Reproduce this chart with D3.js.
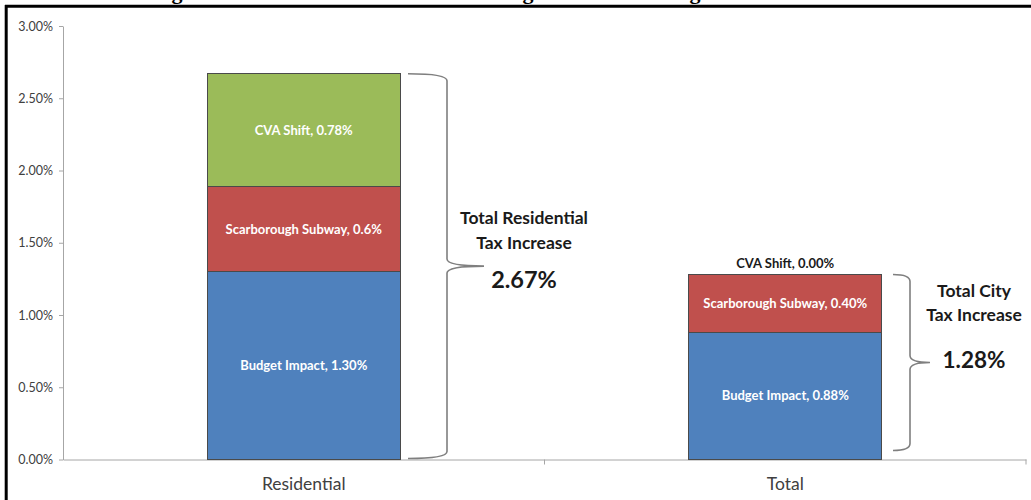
<!DOCTYPE html>
<html>
<head>
<meta charset="utf-8">
<script src="https://cdn.jsdelivr.net/npm/d3@7/dist/d3.min.js"></script>
<style>
  html, body { margin: 0; padding: 0; background: #fff; }
  svg { display: block; }
</style>
</head>
<body>
<svg id="chart" width="1031" height="500"></svg>
<script>
// Stacked tax-increase components per category (percent)
const categories = ["Residential", "Total"];
const seriesNames = ["Budget Impact", "Scarborough Subway", "CVA Shift"];
const budgetImpact = [1.30, 0.88];
const scarboroughSubway = [0.59, 0.40];
const cvaShift = [0.78, 0.00];
// Value text as printed on each segment
const budgetImpactText = ["1.30%", "0.88%"];
const scarboroughSubwayText = ["0.6%", "0.40%"];
const cvaShiftText = ["0.78%", "0.00%"];
const yTickValues = [0, 0.5, 1, 1.5, 2, 2.5, 3];
const totalCaptions = [["Total Residential", "Tax Increase"], ["Total City", "Tax Increase"]];

const seriesColors = ["#4f81bd", "#c0504d", "#9bbb59"];

const svg = d3.select("#chart");
const W = 1031, H = 500;
svg.append("rect").attr("width", W).attr("height", H).attr("fill", "#fff");

// Page frame and the heading line above the chart (only its descenders fall on the page)
svg.append("line").attr("x1", 5).attr("x2", W).attr("y1", 6.2).attr("y2", 6.2)
  .attr("stroke", "#000").attr("stroke-width", 3);
svg.append("line").attr("x1", 6.2).attr("x2", 6.2).attr("y1", 5).attr("y2", H)
  .attr("stroke", "#000").attr("stroke-width", 3);
svg.append("g").selectAll("text").data([177, 528, 695]).join("text")
  .attr("x", d => d).attr("y", -1.5).attr("text-anchor", "middle")
  .attr("font-family", "Liberation Serif").attr("font-weight", "bold")
  .attr("font-size", 22).attr("fill", "#000").text("g");

const plot = { left: 63, right: 1026, top: 26, bottom: 459.5 };

const x = d3.scaleBand().domain(categories)
  .range([plot.left, plot.right]).paddingInner(0.6).paddingOuter(0.3);
const y = d3.scaleLinear().domain([0, 3]).range([plot.bottom, plot.top]);

const rows = categories.map((c, i) => ({
  category: c,
  "Budget Impact": budgetImpact[i],
  "Scarborough Subway": scarboroughSubway[i],
  "CVA Shift": cvaShift[i]
}));
const valueTexts = {
  "Budget Impact": budgetImpactText,
  "Scarborough Subway": scarboroughSubwayText,
  "CVA Shift": cvaShiftText
};
const stacked = d3.stack().keys(seriesNames)(rows);

// Axes
const yAxis = d3.axisLeft(y).tickValues(yTickValues)
  .tickFormat(d => d3.format(".2f")(d) + "%")
  .tickSize(4).tickSizeOuter(0).tickPadding(6);
const gy = svg.append("g").attr("transform", `translate(${plot.left},0)`).call(yAxis);
gy.select(".domain").attr("stroke", "#a6a6a6");
gy.selectAll(".tick line").attr("stroke", "#a6a6a6");
gy.selectAll(".tick text").attr("font-family", "Lato").attr("font-size", 12.5)
  .attr("fill", "#404040");

const xAxis = d3.axisBottom(x).tickSize(0).tickPadding(18);
const gx = svg.append("g").attr("transform", `translate(0,${plot.bottom})`).call(xAxis);
gx.select(".domain").attr("stroke", "#a6a6a6");
gx.selectAll(".tick text").attr("font-family", "Lato").attr("font-size", 17.5)
  .attr("fill", "#404040");
// category boundary ticks
const boundaries = d3.range(categories.length + 1).map(i => plot.left + i * x.step());
gx.append("g").selectAll("line").data(boundaries.slice(1)).join("line")
  .attr("x1", d => d).attr("x2", d => d).attr("y1", 0).attr("y2", 5)
  .attr("stroke", "#a6a6a6");

// Stacked bars
const layers = svg.append("g").selectAll("g").data(stacked).join("g")
  .attr("fill", (d, i) => seriesColors[i]);
layers.selectAll("rect").data(d => d.map(p => ({ p, key: d.key }))).join("rect")
  .attr("x", d => x(d.p.data.category))
  .attr("width", x.bandwidth())
  .attr("y", d => y(d.p[1]))
  .attr("height", d => y(d.p[0]) - y(d.p[1]))
  .attr("stroke", "#4a4a4a").attr("stroke-width", 1)
  .attr("shape-rendering", "crispEdges");

// Segment labels: inside the segment, or above the bar when the segment is empty
const labelData = [];
stacked.forEach(layer => {
  layer.forEach((p, i) => {
    const v = p[1] - p[0];
    const inside = v > 0.05;
    labelData.push({
      x: x(p.data.category) + x.bandwidth() / 2,
      y: inside ? (y(p[0]) + y(p[1])) / 2 : y(p[1]) - 11,
      inside,
      text: `${layer.key}, ${valueTexts[layer.key][i]}`
    });
  });
});
svg.append("g").selectAll("text").data(labelData).join("text")
  .attr("x", d => d.x).attr("y", d => d.y).attr("dy", "0.35em")
  .attr("text-anchor", "middle")
  .attr("font-family", "Lato").attr("font-weight", "bold").attr("font-size", 13)
  .attr("fill", d => d.inside ? "#ffffff" : "#1a1a1a")
  .text(d => d.text);

// Curly braces with totals
const totals = rows.map(r => d3.sum(seriesNames, k => r[k]));
const braceLayout = [
  { xL: 408, xV: 447, xTip: 484, bottomGap: 1, textX: 524, lineDy: [-48, -23], valueDy: 14, valueSize: 23.5 },
  { xL: 893, xV: 910, xTip: 930, bottomGap: 9, textX: 974, lineDy: [-72, -48], valueDy: -2, valueSize: 22.5 }
];
function bracePath(b, yTop, yBot) {
  const r = 7, yMid = (yTop + yBot) / 2;
  return `M${b.xL},${yTop} Q${b.xV},${yTop} ${b.xV},${yTop + r}` +
    ` L${b.xV},${yMid - r} Q${b.xV},${yMid} ${b.xTip},${yMid}` +
    ` Q${b.xV},${yMid} ${b.xV},${yMid + r}` +
    ` L${b.xV},${yBot - r} Q${b.xV},${yBot} ${b.xL},${yBot}`;
}
const notes = svg.append("g");
totals.forEach((t, i) => {
  const b = braceLayout[i];
  const yTop = y(t), yBot = y(0) - b.bottomGap;
  const yMid = (yTop + yBot) / 2;
  notes.append("path").attr("d", bracePath(b, yTop, yBot))
    .attr("fill", "none").attr("stroke", "#7f7f7f").attr("stroke-width", 1.6);
  totalCaptions[i].forEach((line, j) => {
    notes.append("text").attr("x", b.textX).attr("y", yMid + b.lineDy[j])
      .attr("text-anchor", "middle").attr("dy", "0.35em")
      .attr("font-family", "Lato").attr("font-weight", "bold").attr("font-size", 17.5)
      .attr("fill", "#1a1a1a").text(line);
  });
  notes.append("text").attr("x", b.textX).attr("y", yMid + b.valueDy)
    .attr("text-anchor", "middle").attr("dy", "0.35em")
    .attr("font-family", "Lato").attr("font-weight", "bold").attr("font-size", b.valueSize)
    .attr("fill", "#1a1a1a").text(d3.format(".2f")(t) + "%");
});
</script>
</body>
</html>
